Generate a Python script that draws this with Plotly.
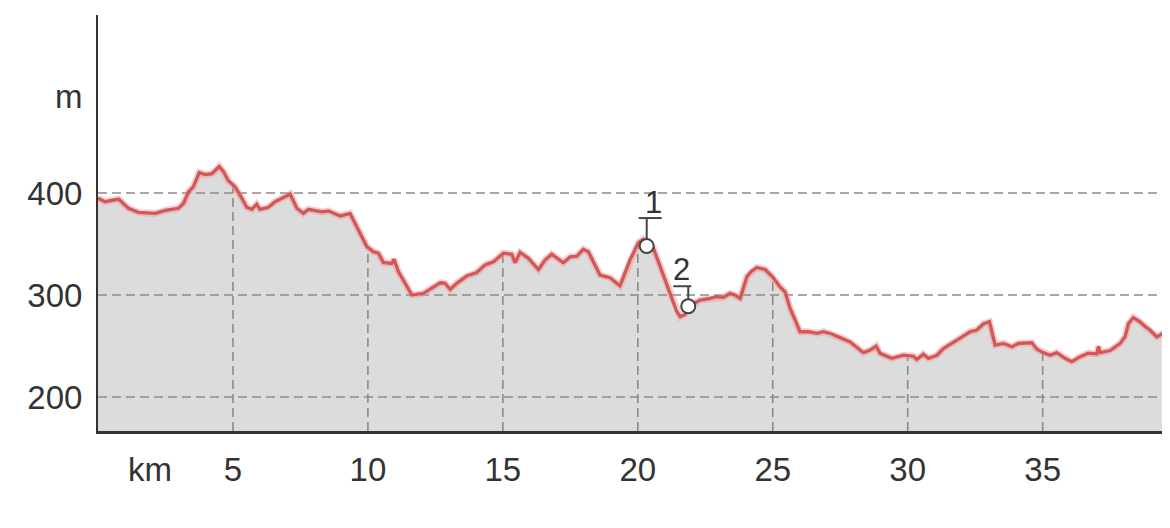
import numpy as np
import plotly.graph_objects as go

# ---- data ----
dist_km = [0.0, 0.26, 0.76, 1.13, 1.5, 2.12, 2.49, 2.98, 3.17, 3.35, 3.53, 3.75, 3.97, 4.22, 4.49,
           4.65, 4.83, 5.08, 5.33, 5.51, 5.7, 5.88, 6.0, 6.31, 6.56, 7.0, 7.12, 7.37, 7.61, 7.8,
           8.04, 8.29, 8.54, 8.97, 9.34, 9.65, 9.96, 10.2, 10.39, 10.57, 10.88, 10.97, 11.13, 11.38,
           11.63, 12.06, 12.43, 12.68, 12.86, 13.05, 13.29, 13.66, 14.03, 14.34, 14.65, 15.02, 15.33,
           15.45, 15.64, 15.95, 16.32, 16.56, 16.81, 17.24, 17.49, 17.74, 17.98, 18.17, 18.6, 18.97,
           19.34, 19.71, 20.02, 20.2, 20.58, 21.07, 21.44, 21.57, 21.75, 21.95, 22.31, 22.68, 22.93,
           23.17, 23.42, 23.6, 23.79, 24.04, 24.2, 24.41, 24.72, 25.02, 25.27, 25.46, 25.64, 25.83,
           26.01, 26.32, 26.63, 26.88, 27.19, 27.56, 27.87, 28.36, 28.61, 28.83, 28.98, 29.41, 29.84,
           30.21, 30.34, 30.58, 30.77, 31.08, 31.32, 31.82, 32.31, 32.56, 32.8, 33.03, 33.24, 33.55,
           33.86, 34.1, 34.6, 34.79, 35.03, 35.28, 35.52, 35.83, 36.08, 36.39, 36.69, 37.0, 37.07,
           37.13, 37.5, 37.87, 38.05, 38.18, 38.36, 38.61, 38.8, 38.98, 39.23, 39.47, 39.55]
elev_m = [395, 391.5, 394, 385, 381, 380, 383, 385, 390, 401, 406, 420, 418, 419, 426,
          421, 412, 406, 395, 386, 384, 389, 384, 386, 391.5, 398, 399, 385, 380, 384,
          383, 381.5, 382.5, 377.5, 380, 363.7, 347.5, 342.5, 341, 332, 331, 335, 323, 311.5,
          300, 301.7, 308, 312, 311.5, 305.6, 311.5, 318.6, 322, 329.4, 332.6, 341, 340,
          331.7, 341.8, 336, 325, 334.3, 340, 331.7, 337.5, 338, 344.8, 342.5, 319.6, 317,
          309, 334.3, 351.3, 354.6, 345.8, 311.5, 284, 278.7, 281, 290, 295, 296.7, 298.3,
          297.7, 301.6, 300, 296.7, 318, 323, 327, 325, 317, 308, 303, 287, 275.5,
          264, 264, 262.5, 264, 261.8, 257.5, 254, 243.5, 246, 250, 242.8, 238, 241,
          240, 237, 242, 238, 241, 247.5, 255.7, 264, 265.7, 271.6, 273.8, 251, 252.5,
          249.3, 252.5, 253.2, 246.8, 243.5, 241, 243.5, 238, 234.6, 239.6, 243, 242.3, 249.7,
          243.6, 245.6, 252.6, 259, 272, 277.9, 273.8, 269, 265.7, 259, 262.5, 262]

x_ticks = [1.93, 5, 10, 15, 20, 25, 30, 35]
x_tick_labels = ["km", "5", "10", "15", "20", "25", "30", "35"]
y_ticks = [200, 300, 400, 495]
y_tick_labels = ["200", "300", "400", "m"]
grid_x = [5, 10, 15, 20, 25, 30, 35]
grid_y = [200, 300, 400]

waypoint_km = [20.33, 21.87]
waypoint_elev = [348, 289]
waypoint_labels = ["1", "2"]

x_range = [0, 39.57]
y_range = [166.7, 574.5]

# ---- styles ----
FILL = "#dcdcdc"
RED = "#d45757"
GRID = "#8a8a8a"
DARK = "#333333"
FONT = "Liberation Sans, Arial, sans-serif"

fig = go.Figure()

# filled area under profile
fig.add_trace(go.Scatter(x=dist_km, y=elev_m, mode="lines", line=dict(width=0),
                         fill="tozeroy", fillcolor=FILL, hoverinfo="skip"))

# horizontal dashed grid lines (over the fill)
for gy in grid_y:
    fig.add_trace(go.Scatter(x=x_range, y=[gy, gy], mode="lines",
                             line=dict(color=GRID, width=1.6, dash="9px,5px"), hoverinfo="skip"))

# vertical dashed grid lines, only beneath the profile
for gx in grid_x:
    top = float(np.interp(gx, dist_km, elev_m))
    fig.add_trace(go.Scatter(x=[gx, gx], y=[y_range[0], top], mode="lines",
                             line=dict(color=GRID, width=1.6, dash="9px,5px"), hoverinfo="skip"))

# right edge of the profile area
fig.add_trace(go.Scatter(x=[dist_km[-1], dist_km[-1]], y=[elev_m[-1], y_range[0]], mode="lines",
                         line=dict(color="#555555", width=2), hoverinfo="skip"))

# halo + profile line
fig.add_trace(go.Scatter(x=dist_km, y=elev_m, mode="lines",
                         line=dict(color="rgba(235,150,150,0.45)", width=7), hoverinfo="skip"))
fig.add_trace(go.Scatter(x=dist_km, y=elev_m, mode="lines",
                         line=dict(color=RED, width=3.3), hoverinfo="skip"))

# waypoint markers
fig.add_trace(go.Scatter(x=waypoint_km, y=waypoint_elev, mode="markers",
                         marker=dict(size=14, color="white", line=dict(color="#444444", width=2)),
                         hoverinfo="skip"))

# flags (stem + bar) and labels
flag_stem_top = [28, 20]
flag_bar = [(-8, 15), (-15, 3)]
label_shift = [(7, 44), (-7, 37)]
shapes = []
annotations = []
for i, (wx, wy) in enumerate(zip(waypoint_km, waypoint_elev)):
    shapes.append(dict(type="line", xref="x", yref="y", xsizemode="pixel", ysizemode="pixel",
                       xanchor=wx, yanchor=wy, x0=0, x1=0, y0=7, y1=flag_stem_top[i],
                       line=dict(color="#444444", width=2)))
    shapes.append(dict(type="line", xref="x", yref="y", xsizemode="pixel", ysizemode="pixel",
                       xanchor=wx, yanchor=wy, x0=flag_bar[i][0], x1=flag_bar[i][1],
                       y0=flag_stem_top[i], y1=flag_stem_top[i],
                       line=dict(color="#444444", width=2)))
    annotations.append(dict(x=wx, y=wy, xref="x", yref="y", text=waypoint_labels[i],
                            showarrow=False, xshift=label_shift[i][0], yshift=label_shift[i][1],
                            font=dict(family=FONT, size=31, color=DARK)))

# page body has an 8px default margin: size the figure to fill the 1170x528 window
fig.update_layout(
    width=1162, height=520,
    margin=dict(l=90, r=4, t=7, b=97),
    paper_bgcolor="white", plot_bgcolor="white",
    showlegend=False,
    shapes=shapes, annotations=annotations,
    font=dict(family=FONT, size=33, color=DARK),
    xaxis=dict(range=x_range, showgrid=False, zeroline=False, showline=True,
               linecolor=DARK, linewidth=3, tickmode="array", tickvals=x_ticks,
               ticktext=x_tick_labels, ticks="", ticklabelstandoff=7, layer="above traces",
               fixedrange=True),
    yaxis=dict(range=y_range, showgrid=False, zeroline=False, showline=True,
               linecolor=DARK, linewidth=2, tickmode="array", tickvals=y_ticks,
               ticktext=y_tick_labels, ticks="", ticklabelstandoff=7, layer="above traces",
               fixedrange=True),
)

fig.write_html("out.html")
